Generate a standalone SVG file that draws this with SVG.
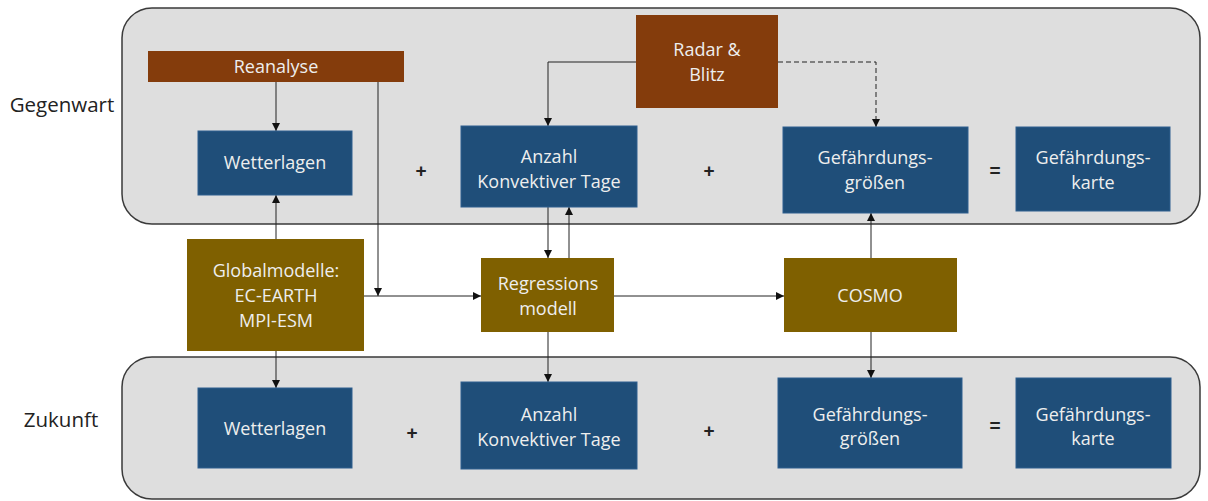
<svg xmlns="http://www.w3.org/2000/svg" width="1208" height="501" viewBox="0 0 1208 501">
<defs>
<style>
.panel{fill:#dedede;stroke:#3a3a3a;stroke-width:1.5}
.blue{fill:#1f4e79;stroke:#2e5f8f;stroke-width:1}
.brown{fill:#843c0c}
.olive{fill:#7f6000}
.t{font-family:"Open Sans","Liberation Sans",sans-serif;font-size:18px;fill:#eeeeee;text-anchor:middle}
.lbl{font-family:"Open Sans","Liberation Sans",sans-serif;font-size:20.5px;fill:#222;text-anchor:middle}
.op{font-family:"Liberation Sans",sans-serif;font-size:19px;font-weight:bold;fill:#222;text-anchor:middle}
.ln{fill:none;stroke:#222;stroke-width:1}
.dash{stroke-dasharray:5 3}
</style>
<marker id="ah" markerWidth="9" markerHeight="9" refX="8" refY="4" orient="auto" markerUnits="userSpaceOnUse">
<path d="M0,0 L8,4 L0,8 Z" fill="#111"/>
</marker>
</defs>
<rect width="1208" height="501" fill="#ffffff"/>
<rect class="panel" x="122" y="8" width="1078" height="216" rx="30"/>
<rect class="panel" x="122" y="357" width="1078" height="142" rx="30"/>
<text class="lbl" x="62" y="112">Gegenwart</text>
<text class="lbl" x="61" y="427">Zukunft</text>
<g id="connectors">
<path class="ln" d="M276,82 V131" marker-end="url(#ah)"/>
<path class="ln" d="M378,82 V296" marker-end="url(#ah)"/>
<path class="ln" d="M636,62 H548 V126" marker-end="url(#ah)"/>
<path class="ln dash" d="M778,62 H876 V127" marker-end="url(#ah)"/>
<path class="ln" d="M276,239 V195" marker-end="url(#ah)"/>
<path class="ln" d="M276,351 V388" marker-end="url(#ah)"/>
<path class="ln" d="M364,296 H481" marker-end="url(#ah)"/>
<path class="ln" d="M548,207 V258" marker-end="url(#ah)"/>
<path class="ln" d="M569,258 V207" marker-end="url(#ah)"/>
<path class="ln" d="M548,332 V382" marker-end="url(#ah)"/>
<path class="ln" d="M614,296 H784" marker-end="url(#ah)"/>
<path class="ln" d="M871,258 V213" marker-end="url(#ah)"/>
<path class="ln" d="M871,332 V378" marker-end="url(#ah)"/>
</g>
<g id="reanalyse"><rect class="brown" x="148" y="51" width="256" height="31"/><text class="t" x="276" y="73">Reanalyse</text></g>
<g id="radar"><rect class="brown" x="636" y="15" width="142" height="93"/><text class="t" x="707" y="56">Radar &amp;</text><text class="t" x="707" y="81">Blitz</text></g>
<g id="wetterlagen-g"><rect class="blue" x="198" y="131" width="154" height="64"/><text class="t" x="275" y="169">Wetterlagen</text></g>
<text class="op" x="421" y="177">+</text>
<g id="anzahl-g"><rect class="blue" x="461" y="126" width="176" height="81"/><text class="t" x="549" y="163">Anzahl</text><text class="t" x="549" y="188">Konvektiver Tage</text></g>
<text class="op" x="709" y="177">+</text>
<g id="groessen-g"><rect class="blue" x="783" y="127" width="185" height="86"/><text class="t" x="875" y="164">Gefährdungs-</text><text class="t" x="875" y="189">größen</text></g>
<text class="op" x="995" y="177">=</text>
<g id="karte-g"><rect class="blue" x="1016" y="127" width="154" height="84"/><text class="t" x="1093" y="164">Gefährdungs-</text><text class="t" x="1093" y="189">karte</text></g>
<g id="globalmodelle"><rect class="olive" x="187" y="239" width="177" height="112"/><text class="t" x="276" y="277">Globalmodelle:</text><text class="t" x="276" y="302">EC-EARTH</text><text class="t" x="276" y="327">MPI-ESM</text></g>
<g id="regression"><rect class="olive" x="481" y="258" width="133" height="74"/><text class="t" x="548" y="290">Regressions</text><text class="t" x="548" y="315">modell</text></g>
<g id="cosmo"><rect class="olive" x="784" y="258" width="173" height="74"/><text class="t" x="870" y="302">COSMO</text></g>
<g id="wetterlagen-z"><rect class="blue" x="198" y="388" width="154" height="80"/><text class="t" x="275" y="435">Wetterlagen</text></g>
<text class="op" x="412" y="439">+</text>
<g id="anzahl-z"><rect class="blue" x="461" y="382" width="176" height="87"/><text class="t" x="549" y="421">Anzahl</text><text class="t" x="549" y="446">Konvektiver Tage</text></g>
<text class="op" x="709" y="437">+</text>
<g id="groessen-z"><rect class="blue" x="778" y="378" width="184" height="90"/><text class="t" x="870" y="421">Gefährdungs-</text><text class="t" x="870" y="445">größen</text></g>
<text class="op" x="995" y="432">=</text>
<g id="karte-z"><rect class="blue" x="1016" y="378" width="155" height="90"/><text class="t" x="1093" y="421">Gefährdungs-</text><text class="t" x="1093" y="445">karte</text></g>
</svg>
